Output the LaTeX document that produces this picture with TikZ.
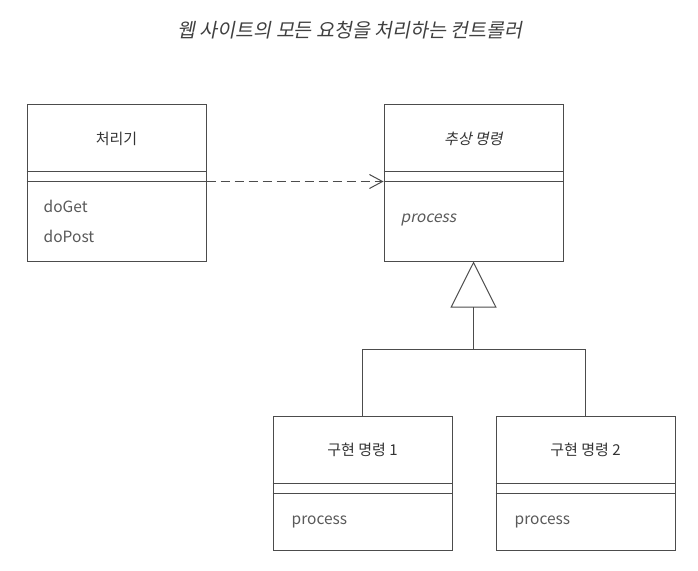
\documentclass[tikz,border=0pt]{standalone}
\usepackage{fontspec}
\setmainfont{Noto Sans CJK KR}[ItalicFont=Noto Sans CJK KR, ItalicFeatures={FakeSlant=0.2}]
\usetikzlibrary{arrows.meta,positioning}

\tikzset{
  classbox/.style={draw=black!70, line width=1pt, minimum width=179pt, minimum height=157pt, inner sep=0pt},
  implbox/.style={classbox, minimum height=134pt},
  classname/.style={text=black!80, font=\fontsize{15}{18}\selectfont},
  opname/.style={text=black!65, font=\fontsize{15.5}{18}\selectfont, anchor=west, inner sep=0pt},
  sep/.style={draw=black!70, line width=1pt},
  dep/.style={sep, dash pattern=on 9pt off 5pt, -{Straight Barb[length=13pt,width=14pt]}},
  inherits/.style={sep, -{Triangle[open,length=46pt,width=46pt]}}
}

\begin{document}
\begin{tikzpicture}[x=1pt,y=1pt]

\useasboundingbox (0,0) rectangle (698,-570);

\newcommand\firstsep{68pt}
\newcommand\secondsep{78pt}

\node[text=black!75, font=\fontsize{19.5}{22}\selectfont\itshape] (caption) at (350,-30) {웹 사이트의 모든 요청을 처리하는 컨트롤러};

  \node[classbox] (handler) at (116.5,-182.5) {};
  \node[classbox] (command) at (473.5,-182.5) {};
  \node[implbox] (concrete1) at (362.5,-483) {};
  \node[implbox] (concrete2) at (585.5,-483) {};

\node[classname] (handlername) at ([yshift=-35pt]handler.north) {처리기};
\node[classname, font=\fontsize{15}{18}\selectfont\itshape] (commandname) at ([yshift=-35pt]command.north) {추상 명령};
\node[classname] (concrete1name) at ([yshift=-34pt]concrete1.north) {구현 명령 1};
\node[classname] (concrete2name) at ([yshift=-34pt]concrete2.north) {구현 명령 2};

\foreach \b in {handler,command,concrete1,concrete2}
{
  \draw[sep] ([yshift=-\firstsep]\b.north west) -- ([yshift=-\firstsep]\b.north east);
  \draw[sep] ([yshift=-\secondsep]\b.north west) -- ([yshift=-\secondsep]\b.north east);
}

\node[opname] (doget) at ([xshift=17pt,yshift=-103pt]handler.north west) {doGet};
\node[opname] (dopost) at ([xshift=17pt,yshift=-133pt]handler.north west) {doPost};
\node[opname, font=\fontsize{15.5}{18}\selectfont\itshape] (abstractprocess) at ([xshift=17pt,yshift=-116pt]command.north west) {process};
\node[opname] (process1) at ([xshift=19pt,yshift=-106pt]concrete1.north west) {process};
\node[opname] (process2) at ([xshift=19pt,yshift=-106pt]concrete2.north west) {process};

% dependency
\coordinate (handlerport) at ([yshift=-\secondsep]handler.north east);
\coordinate (commandport) at ([yshift=-\secondsep]command.north west);
\draw[dep] (handlerport) -- (commandport);

% generalization
\coordinate[below=88pt of command.south] (bus);
\draw[inherits] (bus) -- (command.south);
\draw[sep] (concrete1.north) |- (bus) -| (concrete2.north);

\end{tikzpicture}
\end{document}
